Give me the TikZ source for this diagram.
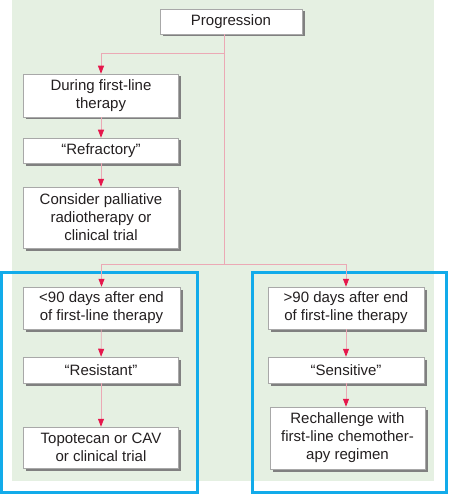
\documentclass[tikz,border=0pt]{standalone}
\usepackage{fontspec}
\setmainfont{Liberation Sans}
\usetikzlibrary{arrows.meta,shadows,calc}
\definecolor{bggreen}{HTML}{E5F0E2}
\definecolor{frameblue}{HTML}{12ABEA}
\definecolor{linkpink}{HTML}{EBA9B5}
\definecolor{tipred}{HTML}{E5174C}
\definecolor{boxborder}{HTML}{A8A8A8}
\definecolor{txt}{HTML}{231F20}
\tikzset{
  box/.style={draw=boxborder, line width=0.5pt, fill=white, align=center, inner sep=0pt,
    font=\fontsize{15}{18}\selectfont, text=txt,
    drop shadow={shadow xshift=2.5pt, shadow yshift=-2.5pt, fill=black!50, opacity=1}},
  link/.style={draw=linkpink, line width=0.8pt},
  arrowlink/.style={link, -{Triangle[width=6pt,length=8pt,color=tipred]}},
  frame/.style={draw=frameblue, line width=3pt}
}
\begin{document}
\begin{tikzpicture}[x=1pt,y=-1pt]
\useasboundingbox (0,0) rectangle (450,497);
\fill[bggreen] (12,0) rectangle (434,481);
\draw[frame] (1.5,272.5) rectangle (197.5,492.5);
\draw[frame] (252.5,272.5) rectangle (446.5,492.5);

\node[box, minimum width=142pt, minimum height=25pt] (prog) at (231,21.5) {Progression};
\node[box, minimum width=155pt, minimum height=43pt] (during) at (101,95.5) {During first-line\\therapy};
\node[box, minimum width=155pt, minimum height=25pt] (refr) at (101,150.5) {``Refractory''};
\node[box, minimum width=155pt, minimum height=61pt] (cons) at (101,217.5) {Consider palliative\\radiotherapy or\\clinical trial};

\node[box, minimum width=157pt, minimum height=42pt] (lt) at (101.5,308) {<90 days after end\\of first-line therapy};
\node[box, minimum width=155pt, minimum height=26pt] (res) at (101,370) {``Resistant''};
\node[box, minimum width=155pt, minimum height=41pt] (topo) at (101,447.5) {Topotecan or CAV\\or clinical trial};

\node[box, minimum width=156pt, minimum height=42pt] (gt) at (346,308) {>90 days after end\\of first-line therapy};
\node[box, minimum width=156pt, minimum height=26pt] (sens) at (346,370) {``Sensitive''};
\node[box, minimum width=155pt, minimum height=62pt] (rech) at (347.5,438) {Rechallenge with\\first-line chemother-\\apy regimen};

\coordinate (t1) at (224,53);
\coordinate (t2) at (224,264);

\draw[link] (prog.south -| t1) -- (t2);
\draw[arrowlink] (t1) -| (during.north);
\draw[arrowlink] (during) -- (refr);
\draw[arrowlink] (refr) -- (cons);
\draw[arrowlink] (t2) -| (lt.north);
\draw[arrowlink] (t2) -| (gt.north);
\draw[arrowlink] (lt) -- (res);
\draw[arrowlink] (res) -- (topo);
\draw[arrowlink] (gt) -- (sens);
\draw[arrowlink] (sens) -- (sens |- rech.north);
\end{tikzpicture}
\end{document}
